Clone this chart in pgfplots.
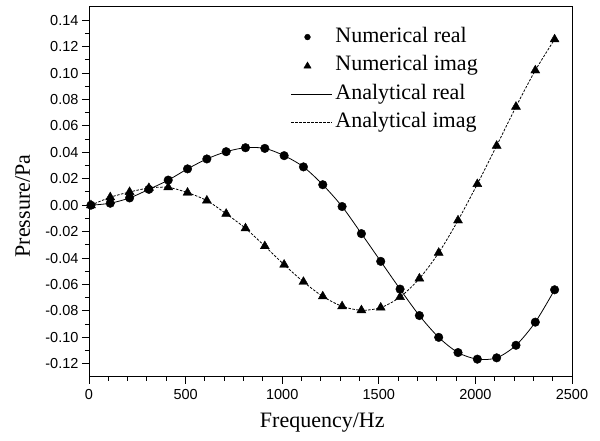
\documentclass[border=0pt]{standalone}
\usepackage{fontspec}
\setmainfont{Liberation Serif}
\newfontfamily\arialf{Liberation Sans}
\usepackage{pgfplots}
\pgfplotsset{compat=1.18}
\usepackage{pgfplotstable}
\pgfplotstableread{
f re im
10 0.000 0.000
110 0.0015 0.006
210 0.0055 0.010
310 0.012 0.013
410 0.019 0.0135
510 0.0275 0.0095
610 0.035 0.0035
710 0.0405 -0.0065
810 0.0435 -0.0175
910 0.043 -0.031
1010 0.0375 -0.045
1110 0.029 -0.058
1210 0.0155 -0.069
1310 -0.001 -0.0765
1410 -0.0215 -0.0795
1510 -0.0425 -0.0775
1610 -0.0635 -0.0695
1710 -0.0835 -0.0555
1810 -0.1000 -0.036
1910 -0.1115 -0.0115
2010 -0.1165 0.016
2110 -0.1155 0.045
2210 -0.1060 0.0745
2310 -0.0885 0.102
2410 -0.0640 0.1255
}\datatab
\begin{document}
\begin{tikzpicture}
\path[use as bounding box] (0,0) rectangle (600pt,441pt);
\begin{axis}[
  at={(89pt,64pt)}, anchor=south west,
  scale only axis, width=483pt, height=370pt,
  xmin=0, xmax=2500, ymin=-0.13, ymax=0.15,
  xtick={0,500,...,2500}, minor x tick num=4,
  ytick={-0.12,-0.10,-0.08,-0.06,-0.04,-0.02,0,0.02,0.04,0.06,0.08,0.10,0.12,0.14},
  yticklabels={-0.12,-0.10,-0.08,-0.06,-0.04,-0.02,0.00,0.02,0.04,0.06,0.08,0.10,0.12,0.14},
  minor y tick num=1,
  xtick pos=bottom, ytick pos=left,
  tick align=outside,
  major tick length=7pt, minor tick length=4pt,
  every tick/.style={line width=1pt, black},
  axis line style={line width=1pt},
  /pgf/number format/assume math mode=true,
  /pgf/number format/1000 sep={},
  tick label style={font=\arialf\fontsize{14.5}{16}\selectfont},
  xticklabel style={yshift=-2pt},
  xlabel={Frequency/Hz}, ylabel={Pressure/Pa},
  label style={font=\fontsize{22}{24}\selectfont},
  xlabel style={at={(axis description cs:0.483,-0.124)}, anchor=center},
  ylabel style={at={(axis description cs:-0.137,0.462)}, anchor=center},
  legend style={draw=none, fill=none, inner sep=0pt,
    at={(rel axis cs:0.418,0.949)}, anchor=north west,
    font=\fontsize{22}{24}\selectfont,
    nodes={inner xsep=2.5pt, inner ysep=0pt, text height=16pt, text depth=6pt},
    row sep=6.5pt},
  legend cell align=left,
]
\addplot[only marks, mark=*, mark size=4.3pt, black,
  legend image code/.code={\fill[black] (16pt,0pt) circle (2.9pt);\path (0pt,0pt) (41pt,0pt);}]
  table[x=f,y=re] {\datatab};
\addlegendentry{Numerical real}
\addplot[only marks, mark=triangle*, mark size=5.2pt, black,
  legend image code/.code={\fill[black] (16pt,3.6pt) -- (19.6pt,-2.5pt) -- (12.4pt,-2.5pt) -- cycle;\path (0pt,0pt) (41pt,0pt);}]
  table[x=f,y=im] {\datatab};
\addlegendentry{Numerical imag}
\addplot[black, line width=0.8pt, smooth, no marks,
  legend image code/.code={\draw[black, line width=0.8pt] (0pt,0pt) -- (41pt,0pt);}]
  table[x=f,y=re] {\datatab};
\addlegendentry{Analytical real}
\addplot[black, line width=0.8pt, smooth, no marks, dash pattern=on 2.5pt off 1.5pt,
  legend image code/.code={\draw[black, line width=0.8pt, dash pattern=on 2.5pt off 1.5pt] (0pt,0pt) -- (41pt,0pt);}]
  table[x=f,y=im] {\datatab};
\addlegendentry{Analytical imag}
\end{axis}
\end{tikzpicture}
\end{document}
